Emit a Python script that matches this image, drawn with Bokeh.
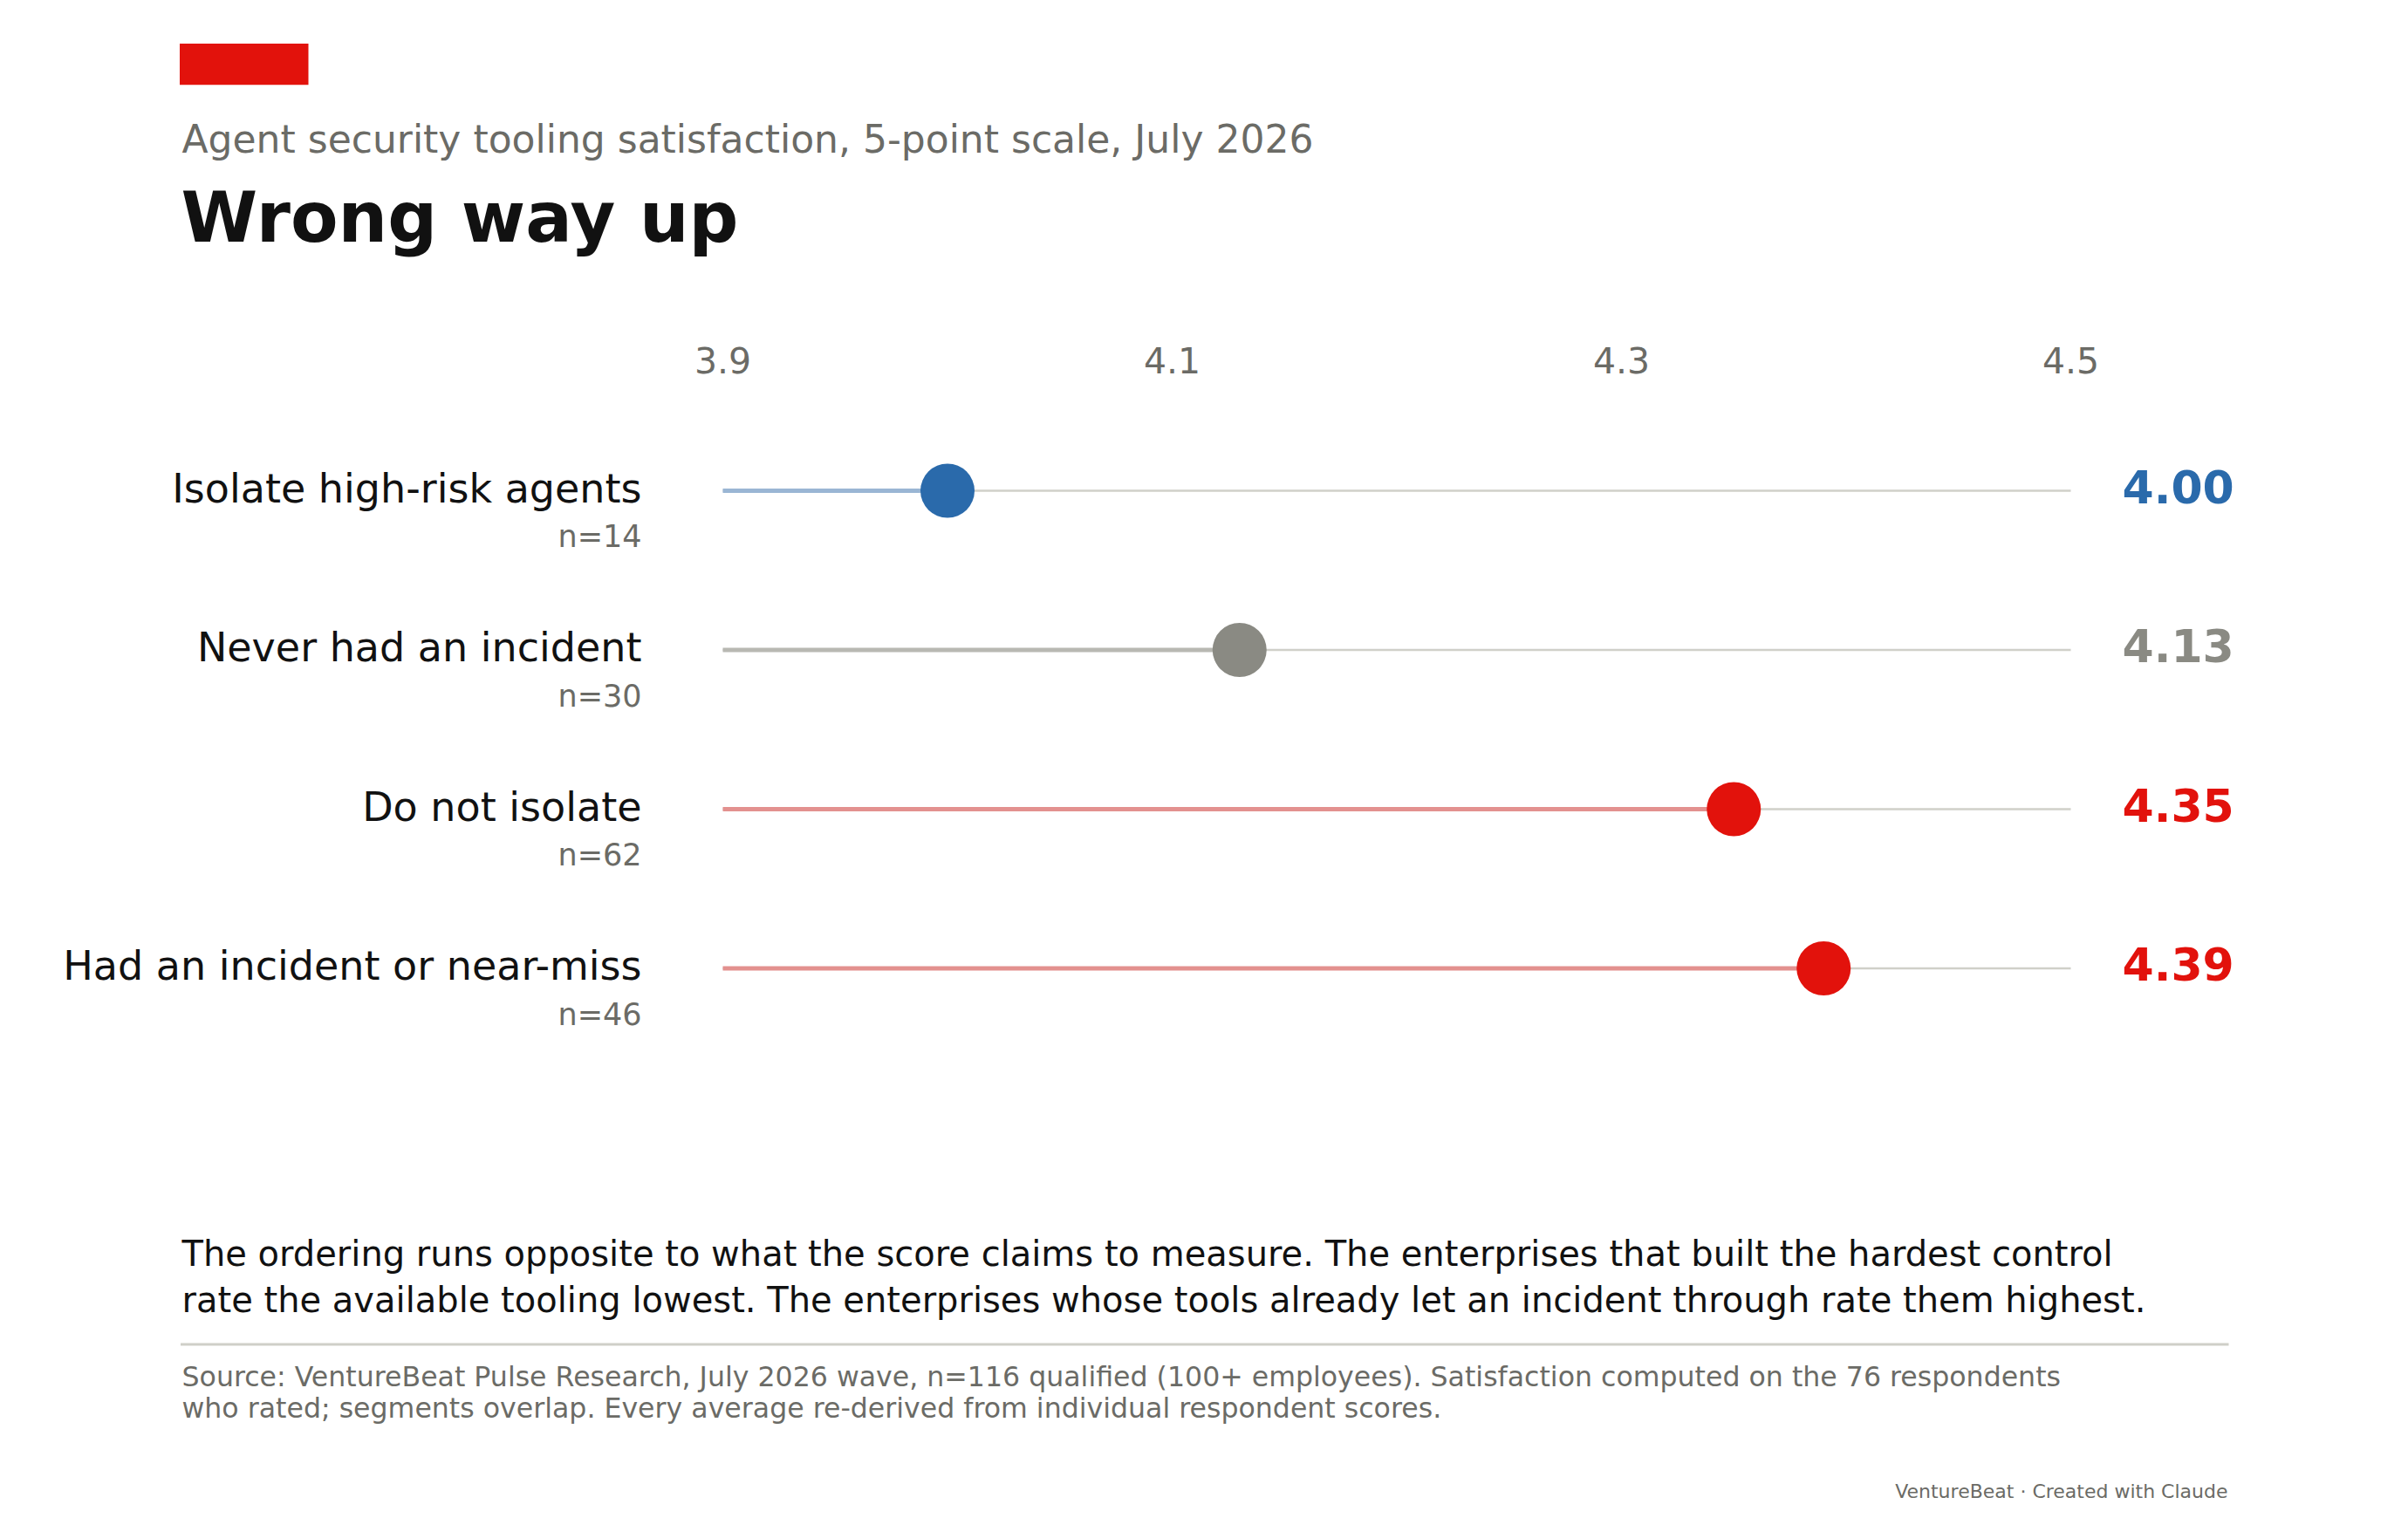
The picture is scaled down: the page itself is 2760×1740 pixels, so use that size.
from bokeh.plotting import figure
from bokeh.models import Range1d, Label, BoxAnnotation, ColumnDataSource
from bokeh.core.properties import value
from bokeh.embed import file_html
from bokeh.resources import INLINE

# ---- data ----
categories = ["Isolate high-risk agents", "Never had an incident", "Do not isolate", "Had an incident or near-miss"]
n_counts = [14, 30, 62, 46]
scores = [4.00, 4.13, 4.35, 4.39]
dot_colors = ["#2a6aab", "#8a8a83", "#e2120c", "#e2120c"]
seg_colors = ["#9ab6d4", "#b8b8b2", "#e3918f", "#e3918f"]
axis_min, axis_max = 3.9, 4.5
ticks = [3.9, 4.1, 4.3, 4.5]
tick_labels = ["3.9", "4.1", "4.3", "4.5"]

subtitle = "Agent security tooling satisfaction, 5-point scale, July 2026"
title = "Wrong way up"
note_lines = [
    "The ordering runs opposite to what the score claims to measure. The enterprises that built the hardest control",
    "rate the available tooling lowest. The enterprises whose tools already let an incident through rate them highest.",
]
source_lines = [
    "Source: VentureBeat Pulse Research, July 2026 wave, n=116 qualified (100+ employees). Satisfaction computed on the 76 respondents",
    "who rated; segments overlap. Every average re-derived from individual respondent scores.",
]
footer = "VentureBeat \u00b7 Created with Claude"

# ---- layout (pixels) ----
W, H = 2744, 1724
X0_PX = 828.0          # pixel of axis_min
PX_PER_UNIT = 2575.0
ROW0_PX = 562.0
ROW_STEP = 182.5
FONT = "DejaVu Sans"
GRAY = "#6b6b66"
INK = "#111111"
BASE_FIX = 0.3         # renderer puts the alphabetic baseline ~0.3em lower

x_start = axis_min - X0_PX / PX_PER_UNIT
x_end = axis_min + (W - X0_PX) / PX_PER_UNIT
y_top = -ROW0_PX / ROW_STEP
y_bottom = (H - ROW0_PX) / ROW_STEP

p = figure(width=W, height=H, output_backend="svg", toolbar_location=None,
           x_range=Range1d(x_start, x_end), y_range=Range1d(y_bottom, y_top),
           x_axis_type=None, y_axis_type=None, min_border=0,
           outline_line_color=None, background_fill_color="white",
           border_fill_color="white")
p.grid.visible = False

rows = list(range(len(categories)))
src = ColumnDataSource(dict(
    row=rows, cat=categories, n=[f"n={v}" for v in n_counts], score=scores,
    lo=[axis_min] * len(rows), hi=[axis_max] * len(rows),
    dot=dot_colors, seg=seg_colors, val=[f"{v:.2f}" for v in scores],
))

# background track
p.segment(x0="lo", y0="row", x1="hi", y1="row", source=src,
          line_color="#d0d0c9", line_width=2.5)
# colored segment
p.segment(x0="lo", y0="row", x1="score", y1="row", source=src,
          line_color="seg", line_width=5)
# dots
p.scatter(x="score", y="row", source=src, size=62, fill_color="dot",
          line_color=None)

def off(base, size):
    return base - BASE_FIX * size

# category labels
p.text(x="lo", y="row", text="cat", source=src, text_align="right",
       text_baseline="alphabetic", x_offset=-93, y_offset=off(11, 46),
       text_font=value(FONT), text_font_size=value("46px"), text_color=INK)
p.text(x="lo", y="row", text="n", source=src, text_align="right",
       text_baseline="alphabetic", x_offset=-93, y_offset=off(63, 35),
       text_font=value(FONT), text_font_size=value("35px"), text_color=GRAY)
# value labels
p.text(x="hi", y="row", text="val", source=src, text_align="left",
       text_baseline="alphabetic", x_offset=59, y_offset=off(11, 52),
       text_font=value(FONT), text_font_size=value("52px"),
       text_font_style="bold", text_color="dot")

# tick labels
tsrc = ColumnDataSource(dict(x=ticks, y=[0] * len(ticks), t=tick_labels))
p.text(x="x", y="y", text="t", source=tsrc, text_align="center",
       text_baseline="alphabetic", y_offset=off(-137, 41),
       text_font=value(FONT), text_font_size=value("41px"), text_color=GRAY)

# ---- header / footer ----
def lab(x, baseline_from_top, text, size, color, style="normal", align="left"):
    y = baseline_from_top - BASE_FIX * size
    p.add_layout(Label(x=x, y=H - y, x_units="screen", y_units="screen",
                       text=text, text_font=FONT, text_font_size=f"{size}px",
                       text_color=color, text_font_style=style,
                       text_align=align, text_baseline="alphabetic"))

def box(left, right, top, bottom, color):
    p.add_layout(BoxAnnotation(left=left, right=right, top=H - top, bottom=H - bottom,
                               left_units="screen", right_units="screen",
                               top_units="screen", bottom_units="screen",
                               fill_color=color, fill_alpha=1.0, line_color=None))

box(205.5, 353, 49.5, 96.7, "#e2120c")
lab(208, 172.5, subtitle, 44, GRAY)
lab(207, 272.5, title, 79.5, INK, style="bold")

lab(208, 1448, note_lines[0], 40, INK)
lab(208, 1501, note_lines[1], 40, INK)
box(206.5, 2554, 1539, 1542, "#cfcfc8")
lab(208, 1586.7, source_lines[0], 31.6, GRAY)
lab(208, 1622.7, source_lines[1], 31.6, GRAY)
lab(2553, 1716, footer, 22, GRAY, align="right")

open("out.html", "w").write(file_html(p, INLINE))
